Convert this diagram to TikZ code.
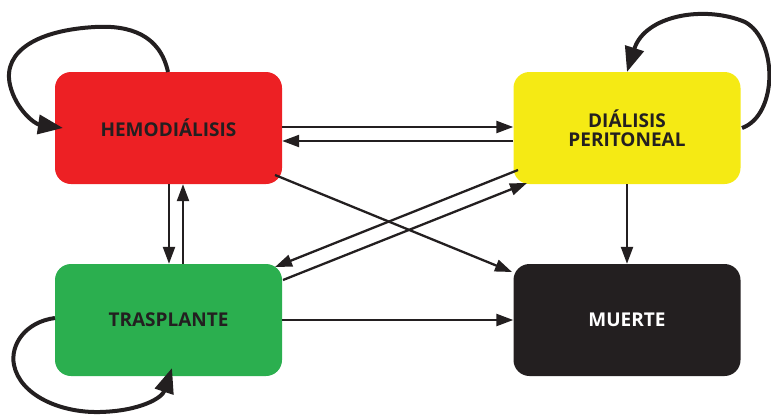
\documentclass[tikz,border=0pt]{standalone}
\usepackage{fontspec}
\setmainfont{Open Sans}
\usetikzlibrary{arrows.meta}
\definecolor{hred}{HTML}{ED2024}
\definecolor{hyellow}{HTML}{F5EA14}
\definecolor{hgreen}{HTML}{2BAF4F}
\definecolor{hblack}{HTML}{231F20}
\tikzset{
  box/.style={rounded corners=16pt, minimum width=227pt, minimum height=112pt, inner sep=0pt,
    align=center, font=\fontsize{19}{19}\selectfont\bfseries, text=hblack},
  conn/.style={draw=hblack, line width=2.3pt, -{Triangle[length=17pt,width=12pt]}},
  loopc/.style={draw=hblack, line width=4pt, -{Triangle[length=25pt,width=19pt]}},
}
\begin{document}
\begin{tikzpicture}[x=1pt,y=-1pt]
\useasboundingbox (0,0) rectangle (771,415);
\node[box, fill=hred] (h) at (168.5,128) {HEMODIÁLISIS};
\node[box, fill=hyellow] (d) at (627,128) {DIÁLISIS\\PERITONEAL};
\node[box, fill=hgreen] (t) at (168.5,320) {TRASPLANTE};
\node[box, fill=hblack, text=white] (m) at (627,320) {MUERTE};
% horizontal
\draw[conn] ([yshift=1pt]h.east) -- ([yshift=1pt]d.west);
\draw[conn] ([yshift=-13pt]d.west) -- ([yshift=-13pt]h.east);
% vertical
\draw[conn] ([xshift=0.5pt]h.south) -- ([xshift=0.5pt]t.north);
\draw[conn] ([xshift=14.5pt]t.north) -- ([xshift=14.5pt]h.south);
\draw[conn] (d.south) -- (m.north);
\draw[conn] (t.east) -- (m.west);
% diagonals
\coordinate (hse) at (275,175);
\coordinate (mnw) at (512,272);
\coordinate (dsw) at (518,170);
\coordinate (tne) at (275,267);
\coordinate (tne2) at (283,280);
\coordinate (dsw2) at (527,183);
\draw[conn] (hse) -- (mnw);
\draw[conn] (dsw) -- (tne);
\draw[conn] (tne2) -- (dsw2);
% loops
\coordinate (h1) at (168,72);
\coordinate (h2) at (63,128);
\draw[loopc] (h1) .. controls (160,35) and (130,25) .. (95,27)
  .. controls (40,30) and (2,50) .. (10,85)
  .. controls (16,110) and (35,124) .. (h2);
\coordinate (d1) at (742,128);
\coordinate (d2) at (627,72);
\draw[loopc] (d1) .. controls (778,115) and (778,40) .. (745,22)
  .. controls (705,5) and (645,15) .. (d2);
\coordinate (t1) at (55,318);
\coordinate (t2) at (172,368);
\draw[loopc] (t1) .. controls (25,322) and (10,345) .. (14,365)
  .. controls (20,395) and (60,413) .. (100,412)
  .. controls (140,411) and (162,398) .. (t2);
\end{tikzpicture}
\end{document}
